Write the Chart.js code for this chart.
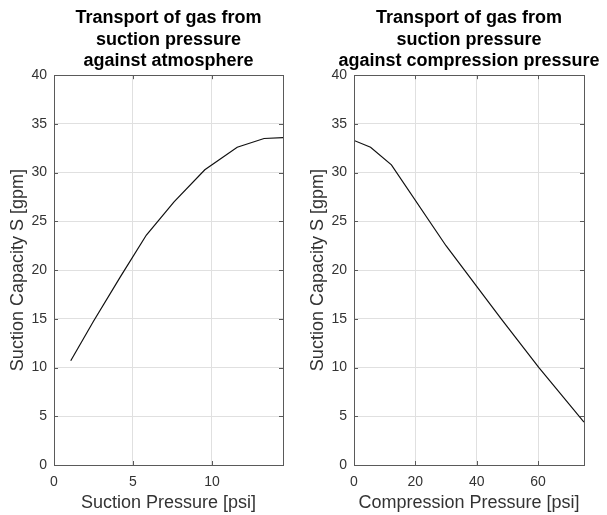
<!DOCTYPE html>
<html>
<head>
<meta charset="utf-8">
<script src="https://cdn.jsdelivr.net/npm/chart.js@4.4.1/dist/chart.umd.min.js"></script>
<style>
  html, body { margin: 0; background: #fff; overflow: hidden; }
  #wrap { position: relative; width: 607px; height: 515px; overflow: hidden; }
  canvas { position: absolute; top: 0; }
  #leftChart { left: 0; }
  #rightChart { left: 300px; }
</style>
</head>
<body>
<div id="wrap">
  <canvas id="leftChart" width="337" height="515"></canvas>
  <canvas id="rightChart" width="338" height="515"></canvas>
</div>
<script>
'use strict';

// data
const suctionPressure = [1.06, 2.5, 4.2, 5.85, 7.6, 9.55, 11.6, 13.3, 14.5];
const capacityVsSuction = [10.7, 14.75, 19.3, 23.6, 27.0, 30.3, 32.6, 33.5, 33.6];

const compressionPressure = [0, 5.4, 12.2, 30, 48, 60.3, 75];
const capacityVsCompression = [33.3, 32.6, 30.8, 22.5, 15.0, 10.0, 4.4];

const yTicks = [0, 5, 10, 15, 20, 25, 30, 35, 40];

const leftTitle = ['Transport of gas from', 'suction pressure', 'against atmosphere'];
const rightTitle = ['Transport of gas from', 'suction pressure', 'against compression pressure'];

const FONT = "Helvetica, 'Liberation Sans', Arial, sans-serif";
const AXIS_COLOR = '#5a5a5a';
const GRID_COLOR = '#e0e0e0';

/**
 * box around the plot + inner tick marks (matlab style)
 */
const boxPlugin = {
  id: 'box',
  afterDraw(chart) {
    const ctx = chart.ctx;
    const a = chart.chartArea;
    const xs = chart.scales.x;
    const ys = chart.scales.y;
    const len = 4;
    ctx.save();
    ctx.strokeStyle = AXIS_COLOR;
    ctx.lineWidth = 1;
    ctx.beginPath();
    xs.ticks.forEach(function (t) {
      const px = Math.round(xs.getPixelForValue(t.value)) + 0.5;
      ctx.moveTo(px, a.bottom); ctx.lineTo(px, a.bottom - len);
      ctx.moveTo(px, a.top); ctx.lineTo(px, a.top + len);
    });
    ys.ticks.forEach(function (t) {
      const py = Math.round(ys.getPixelForValue(t.value)) + 0.5;
      ctx.moveTo(a.left, py); ctx.lineTo(a.left + len, py);
      ctx.moveTo(a.right, py); ctx.lineTo(a.right - len, py);
    });
    ctx.stroke();
    ctx.strokeRect(Math.round(a.left) + 0.5, Math.round(a.top) + 0.5,
      Math.round(a.right - a.left), Math.round(a.bottom - a.top));
    ctx.restore();
  }
};

function makeChart(id, xs, ys, title, xLabel, xMax, xStep) {
  const points = xs.map(function (x, i) { return { x: x, y: ys[i] }; });
  return new Chart(document.getElementById(id), {
    type: 'line',
    data: {
      datasets: [{
        data: points,
        borderColor: '#111',
        borderWidth: 1.2,
        pointRadius: 0,
        tension: 0,
        fill: false
      }]
    },
    options: {
      responsive: false,
      animation: false,
      layout: { padding: 0 },
      plugins: {
        legend: { display: false },
        tooltip: { enabled: false },
        title: {
          display: true,
          text: title,
          color: '#000',
          font: { family: FONT, size: 18, weight: 'bold', lineHeight: 1.17 },
          padding: { top: 8, bottom: 4 }
        }
      },
      scales: {
        x: {
          type: 'linear',
          min: 0,
          max: xMax,
          afterFit: function (scale) { scale.height = 50; },
          ticks: {
            stepSize: xStep,
            includeBounds: false,
            color: '#333',
            padding: 9,
            font: { family: FONT, size: 14 }
          },
          grid: { color: GRID_COLOR, drawTicks: false },
          border: { display: false },
          title: {
            display: true,
            text: xLabel,
            color: '#333',
            font: { family: FONT, size: 18 },
            padding: { top: 0, bottom: 1 }
          }
        },
        y: {
          min: 0,
          max: 40,
          afterFit: function (scale) { scale.width = 54; },
          afterBuildTicks: function (scale) {
            scale.ticks = yTicks.map(function (v) { return { value: v }; });
          },
          ticks: {
            color: '#333',
            padding: 7,
            font: { family: FONT, size: 14 }
          },
          grid: { color: GRID_COLOR, drawTicks: false },
          border: { display: false },
          title: {
            display: true,
            text: 'Suction Capacity S [gpm]',
            color: '#333',
            font: { family: FONT, size: 18 },
            padding: { top: 7, bottom: 0 }
          }
        },
        // empty right margin so the title centres over the plot
        spacer: {
          type: 'linear',
          position: 'right',
          min: 0,
          max: 1,
          afterFit: function (scale) { scale.width = 54; },
          ticks: { display: false },
          grid: { display: false },
          border: { display: false }
        }
      }
    },
    plugins: [boxPlugin]
  });
}

makeChart('leftChart', suctionPressure, capacityVsSuction, leftTitle,
  'Suction Pressure [psi]', 14.5, 5);
makeChart('rightChart', compressionPressure, capacityVsCompression, rightTitle,
  'Compression Pressure [psi]', 75, 20);
</script>
</body>
</html>
